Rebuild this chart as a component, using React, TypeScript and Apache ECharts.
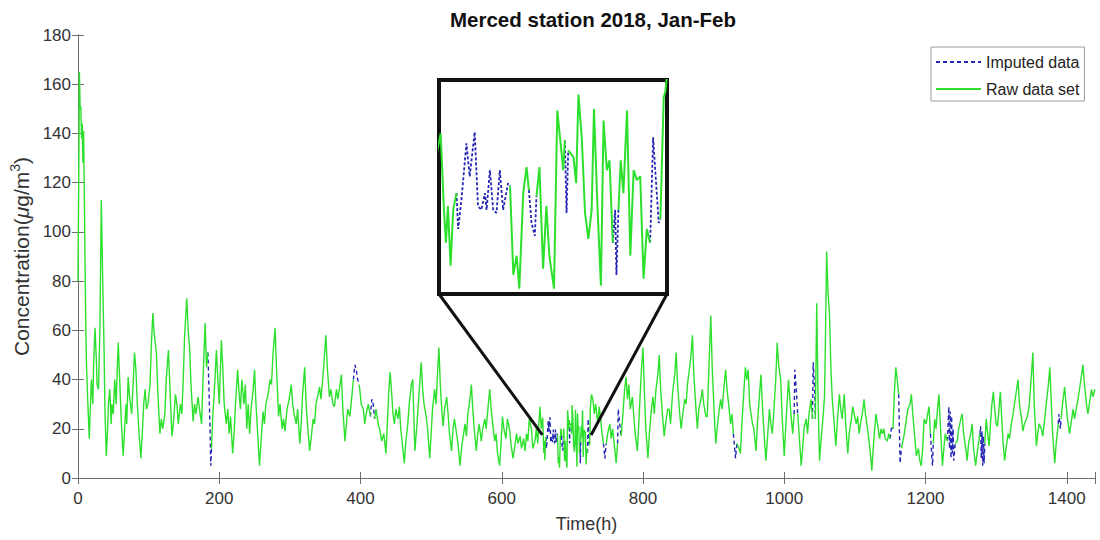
import React, { useEffect, useRef } from 'react';
import * as echarts from 'echarts';

type Pt = [number, number];

const FONT = '"Liberation Sans", Arial, Helvetica, sans-serif';

const TITLE = 'Merced station 2018, Jan-Feb';
const X_NAME = 'Time(h)';
const SERIES_IMPUTED = 'Imputed data';
const SERIES_RAW = 'Raw data set';

const X_RANGE: [number, number] = [0, 1440];
const X_STEP = 200;
const Y_RANGE: [number, number] = [0, 180];
const Y_STEP = 20;

// Window shown magnified in the inset (hours) and its concentration span
const ZOOM_HOURS: [number, number] = [657.5, 726.5];
const ZOOM_CONC: [number, number] = [3.5, 31.5];
// Concentration level where the inset's guide lines meet the main trace
const ZOOM_ANCHOR_LEVEL = 17.5;

// Hourly PM2.5 concentration (µg/m³), [hour, value]
const hours0to230: Pt[] = [
  [0, 80], [1, 120], [2, 165], [3, 150], [4, 151], [5, 138], [6, 144], [7, 128], [8, 141], [9, 114],
  [10, 87], [11, 62], [12, 46], [14, 30], [16, 16], [17, 25], [19, 40], [21, 30], [22, 45], [24, 61],
  [26, 48], [27, 38], [29, 36], [31, 60], [33, 113], [35, 80], [37, 51], [38, 30], [40, 9], [42, 20],
  [43, 30], [45, 36], [47, 22], [48, 30], [50, 26], [52, 40], [54, 30], [56, 48], [57, 55], [59, 40],
  [61, 25], [64, 9], [66, 20], [68, 30], [69, 22], [71, 41], [73, 33], [76, 26], [78, 38], [80, 51],
  [82, 44], [84, 30], [86, 20], [89, 8], [91, 18], [93, 30], [95, 36], [97, 28], [99, 30], [102, 38],
  [104, 55], [106, 67], [108, 58], [111, 51], [113, 35], [116, 18], [118, 24], [120, 20], [123, 26], [125, 40],
  [128, 52], [130, 38], [133, 17], [135, 22], [138, 34], [140, 30], [142, 22], [145, 30], [147, 26], [149, 40],
  [151, 58], [154, 73], [156, 60], [158, 53], [160, 38], [163, 23], [165, 30], [167, 26], [170, 33], [172, 28],
  [175, 22], [177, 40], [180, 63], [182, 45], [184, 51], [185, 40], [186, 30], [187, 20], [188, 5], [189, 12],
  [191, 26], [193, 35], [196, 52], [198, 40], [200, 30], [203, 56], [205, 45], [207, 30], [210, 22], [212, 28],
  [214, 18], [216, 25], [219, 10], [221, 18], [223, 30], [226, 44], [228, 35], [230, 28],
];

const hours232to480: Pt[] = [
  [232, 40], [235, 30], [237, 38], [239, 20], [241, 30], [243, 18], [245, 28], [248, 36], [250, 44], [252, 30],
  [254, 20], [257, 5], [259, 14], [262, 27], [264, 22], [266, 30], [269, 34], [272, 40], [274, 38], [276, 50],
  [279, 61], [281, 45], [284, 25], [286, 30], [289, 20], [291, 24], [293, 19], [296, 28], [299, 32], [302, 38],
  [304, 30], [306, 26], [309, 22], [311, 28], [314, 14], [316, 22], [318, 34], [321, 45], [323, 30], [326, 18],
  [328, 11], [330, 16], [333, 24], [335, 22], [337, 30], [340, 34], [342, 37], [344, 32], [347, 42], [349, 50],
  [351, 58], [353, 45], [356, 33], [358, 36], [361, 30], [363, 29], [366, 36], [368, 32], [371, 38], [373, 42],
  [375, 28], [378, 15], [380, 22], [382, 28], [385, 25], [388, 34], [390, 40], [392, 46], [394, 44], [396, 40],
  [398, 38], [399, 36], [401, 30], [404, 28], [406, 22], [408, 26], [411, 30], [414, 25], [416, 32], [418, 30],
  [420, 24], [422, 28], [425, 22], [427, 20], [430, 15], [433, 18], [436, 10], [438, 22], [440, 35], [442, 43],
  [444, 35], [446, 26], [448, 22], [450, 28], [453, 24], [455, 29], [457, 20], [460, 12], [462, 6], [464, 14],
  [467, 22], [469, 30], [472, 38], [474, 40], [477, 11], [480, 22],
];

const hours483to656: Pt[] = [
  [483, 35], [486, 47], [488, 36], [490, 30], [493, 25], [495, 20], [498, 8], [500, 18], [502, 28], [505, 36],
  [507, 30], [509, 42], [511, 53], [513, 38], [515, 28], [517, 21], [519, 28], [522, 33], [524, 26], [526, 18],
  [529, 11], [531, 20], [533, 24], [536, 18], [538, 14], [541, 5], [543, 12], [546, 18], [548, 22], [550, 17],
  [552, 26], [555, 32], [557, 38], [559, 28], [561, 20], [564, 11], [566, 18], [568, 22], [571, 15], [573, 20],
  [576, 24], [578, 20], [581, 30], [583, 36], [585, 28], [588, 20], [590, 15], [592, 18], [594, 10], [597, 5],
  [599, 14], [601, 25], [603, 20], [606, 16], [608, 24], [611, 20], [613, 14], [616, 8], [618, 12], [621, 18],
  [623, 14], [626, 17], [628, 12], [631, 16], [633, 11], [635, 18], [637, 15], [639, 24], [642, 20], [644, 12],
  [647, 15], [649, 20], [651, 14], [654, 29], [656, 20],
];

const hours658to726: Pt[] = [
  [658, 24.5], [659, 14.5], [659.6, 10.2], [660.2, 15], [661, 7.2], [661.8, 14.5], [662.8, 16.7], [663.3, 12],
  [664.3, 15.9], [665.8, 23.2], [666.8, 18.9], [668.3, 24.7], [669.3, 15], [670.3, 14.5], [671.4, 16.7],
  [671.9, 14.5], [672.9, 19.7], [673.9, 14.5], [674.9, 14.1], [675.9, 19.7], [676.9, 14.5], [678.4, 18],
  [679, 17.6], [680, 6], [681, 8.5], [681.8, 4.2], [683, 16.7], [684, 20.1], [684.7, 17.1], [685.5, 12.8],
  [686.5, 11.1], [687, 16.3], [687.9, 20.1], [689, 6.8], [690, 15], [690.9, 8.5], [692.3, 4.2], [693.3, 27.5],
  [694.3, 23.2], [695.1, 19.7], [695.6, 23.6], [696.1, 14.1], [696.6, 22.3], [698.2, 21.4], [699, 18],
  [699.7, 29.6], [700.7, 24], [701.7, 14.1], [702.7, 10.7], [703.7, 14.5], [704.4, 27.7], [705.5, 14.5],
  [706.5, 4.6], [707.3, 26.2], [708.3, 19.7], [709.1, 21], [710.1, 10.2], [710.8, 14.5], [711.2, 6],
  [711.8, 14.5], [712.5, 21], [713.3, 16.7], [714.4, 27.5], [715.4, 8.5], [716.4, 19.7], [717.4, 18.4],
  [718.4, 18.9], [719.4, 5.5], [720.4, 12], [721.4, 10.2], [722.3, 24], [723.2, 18], [724, 12.8], [724.5, 13.3],
  [725.5, 29.2], [726, 30],
];

const hours727to960: Pt[] = [
  [727, 34], [729, 32], [731, 26], [733, 30], [736, 22], [738, 29], [740, 24], [742, 18], [744, 14], [746, 8],
  [748, 14], [750, 18], [753, 22], [755, 16], [757, 20], [760, 12], [762, 6], [764, 14], [765, 28], [767, 22],
  [769, 17], [771, 24], [774, 36], [776, 41], [778, 32], [780, 38], [782, 28], [785, 33], [787, 25], [789, 18],
  [792, 11], [794, 22], [796, 34], [798, 45], [800, 53], [802, 35], [804, 20], [807, 8], [809, 18], [812, 28],
  [814, 33], [816, 26], [818, 35], [821, 42], [823, 50], [825, 36], [828, 24], [830, 17], [832, 22], [835, 28],
  [837, 28], [839, 22], [842, 35], [845, 42], [847, 51], [849, 38], [852, 26], [854, 20], [856, 25], [859, 32],
  [861, 30], [863, 38], [866, 45], [868, 50], [870, 58], [872, 42], [875, 28], [877, 20], [879, 28], [882, 32],
  [884, 36], [886, 30], [889, 25], [891, 25], [893, 42], [896, 66], [898, 45], [901, 25], [903, 14], [905, 20],
  [908, 28], [910, 32], [912, 28], [915, 38], [917, 44], [919, 36], [922, 28], [924, 22], [926, 26], [928, 18],
  [931, 8], [933, 14], [936, 12], [938, 10], [940, 22], [943, 36], [945, 45], [947, 40], [949, 44], [951, 30],
  [953, 26], [955, 22], [957, 20], [960, 11],
];

const hours962to1201: Pt[] = [
  [962, 22], [964, 30], [967, 42], [969, 30], [971, 20], [974, 7], [976, 15], [979, 28], [981, 22], [983, 18],
  [985, 26], [988, 40], [990, 55], [992, 46], [995, 40], [997, 25], [1000, 9], [1002, 20], [1004, 30], [1006, 40],
  [1008, 32], [1010, 24], [1012, 18], [1014, 26], [1015, 44], [1017, 36], [1019, 26], [1021, 18], [1024, 5],
  [1026, 12], [1028, 20], [1031, 24], [1033, 18], [1035, 26], [1038, 32], [1040, 24], [1041, 47], [1043, 36],
  [1044, 24], [1046, 71], [1048, 30], [1050, 7], [1052, 15], [1055, 25], [1057, 33], [1058, 50], [1060, 92],
  [1062, 75], [1064, 67], [1066, 45], [1068, 32], [1070, 25], [1073, 13], [1075, 22], [1078, 34], [1080, 28],
  [1082, 24], [1085, 34], [1087, 22], [1090, 10], [1092, 18], [1095, 24], [1097, 29], [1099, 26], [1102, 22],
  [1104, 25], [1106, 18], [1108, 22], [1111, 27], [1113, 32], [1115, 26], [1118, 20], [1120, 15], [1122, 10],
  [1124, 3], [1126, 12], [1128, 20], [1130, 26], [1132, 22], [1135, 16], [1137, 20], [1139, 18], [1141, 20],
  [1143, 16], [1146, 15], [1148, 18], [1150, 16], [1152, 21], [1154, 20], [1156, 35], [1158, 45], [1160, 40],
  [1162, 34], [1163, 20], [1164, 6], [1166, 12], [1168, 15], [1170, 18], [1173, 24], [1175, 28], [1178, 30],
  [1180, 34], [1182, 26], [1185, 16], [1187, 9], [1190, 12], [1192, 7], [1194, 5], [1196, 12], [1198, 24],
  [1201, 22],
];

const hours1203to1440: Pt[] = [
  [1203, 26], [1205, 29], [1207, 18], [1209, 8], [1210, 5], [1211, 14], [1213, 24], [1215, 20], [1217, 28],
  [1219, 34], [1221, 22], [1224, 5], [1226, 12], [1228, 18], [1231, 15], [1233, 29], [1234, 12], [1235, 27],
  [1236, 8], [1237, 25], [1238, 10], [1239, 20], [1240, 7], [1242, 14], [1245, 15], [1247, 20], [1250, 24],
  [1252, 26], [1254, 18], [1257, 12], [1259, 7], [1261, 14], [1264, 18], [1266, 22], [1268, 12], [1271, 5],
  [1273, 10], [1275, 14], [1277, 18], [1278, 21], [1279, 8], [1280, 19], [1281, 5], [1282, 17], [1283, 6],
  [1284, 14], [1286, 24], [1288, 18], [1290, 13], [1292, 22], [1294, 30], [1296, 35], [1298, 28], [1300, 22],
  [1302, 21], [1304, 28], [1306, 35], [1308, 24], [1310, 14], [1312, 7], [1314, 12], [1317, 18], [1319, 16],
  [1321, 21], [1324, 26], [1326, 30], [1329, 36], [1331, 40], [1333, 30], [1336, 24], [1338, 19], [1340, 22],
  [1343, 24], [1345, 26], [1347, 30], [1350, 42], [1352, 51], [1354, 30], [1357, 13], [1359, 18], [1361, 22],
  [1364, 20], [1366, 17], [1368, 22], [1371, 30], [1374, 38], [1376, 45], [1378, 32], [1380, 18], [1383, 6],
  [1385, 14], [1388, 22], [1389, 26], [1391, 20], [1392, 24], [1394, 30], [1397, 37], [1399, 30], [1401, 24],
  [1404, 18], [1406, 22], [1409, 28], [1411, 24], [1414, 29], [1416, 32], [1419, 38], [1421, 42], [1423, 46],
  [1425, 38], [1428, 30], [1430, 26], [1432, 30], [1435, 36], [1437, 33], [1440, 36],
];

// Stretches (hours) where raw readings are missing and filled by imputation
const imputedGaps: [number, number][] = [
  [184, 189], [390, 398], [414, 420],
  [662.8, 679], [684.7, 687], [695.6, 696.6], [710.1, 711.8], [721.4, 724.5],
  [744, 748], [764, 769], [928, 933],
  [1014, 1019], [1040, 1044], [1150, 1154], [1162, 1166],
  [1207, 1211], [1231, 1242], [1277, 1284], [1388, 1392],
];

const allHours: Pt[] = [
  ...hours0to230, ...hours232to480, ...hours483to656, ...hours658to726,
  ...hours727to960, ...hours962to1201, ...hours1203to1440,
];

const insideGap = (h: number) => imputedGaps.some(([s, e]) => h > s && h < e);
const touchesGap = (h: number) => imputedGaps.some(([s, e]) => h >= s && h <= e);

const rawSeries = allHours.map(([h, v]) => [h, insideGap(h) ? '-' : v]);
const imputedSeries = allHours.map(([h, v]) => [h, touchesGap(h) ? v : '-']);
const inZoom = (p: (number | string)[]) =>
  (p[0] as number) >= ZOOM_HOURS[0] - 3 && (p[0] as number) <= ZOOM_HOURS[1] + 3;
const rawZoom = rawSeries.filter(inZoom);
const imputedZoom = imputedSeries.filter(inZoom);

const GREEN = '#2ee02e';
const BLUE = '#2626b4';
const AXIS = '#6e6e6e';
const LABEL = '#333333';

export default function App() {
  const ref = useRef<HTMLDivElement>(null);

  useEffect(() => {
    if (!ref.current) return;
    const chart = echarts.init(ref.current, undefined, { renderer: 'svg' });

    const frameAxis = {
      axisLine: { show: true, lineStyle: { color: AXIS, width: 1 } },
      axisTick: { show: true, inside: true, length: 6, lineStyle: { color: AXIS } },
      splitLine: { show: false },
    };

    chart.setOption({
      animation: false,
      backgroundColor: '#ffffff',
      textStyle: { fontFamily: FONT },
      title: {
        text: TITLE,
        left: 588,
        top: 4,
        textAlign: 'center',
        textStyle: { fontFamily: FONT, fontSize: 20.5, fontWeight: 'bold', color: '#111' },
      },
      legend: {
        data: [SERIES_IMPUTED, SERIES_RAW],
        orient: 'vertical',
        left: 931,
        top: 47,
        backgroundColor: '#ffffff',
        borderColor: '#9a9a9a',
        borderWidth: 1,
        borderRadius: 0,
        padding: [6, 5, 3, 4],
        itemWidth: 45,
        itemHeight: 4,
        itemGap: 9,
        itemStyle: { opacity: 0 },
        textStyle: { fontFamily: FONT, fontSize: 16, color: '#222', lineHeight: 18 },
      },
      grid: [
        { left: 78, top: 35, right: 5, bottom: 62 },
        {
          left: 439, top: 80, width: 228, height: 214,
          show: true, backgroundColor: '#ffffff', borderColor: '#111', borderWidth: 4, z: 5,
        },
      ],
      xAxis: [
        {
          type: 'value', gridIndex: 0, min: X_RANGE[0], max: X_RANGE[1], interval: X_STEP,
          ...frameAxis,
          axisLabel: {
            color: LABEL, fontSize: 17, fontFamily: FONT, margin: 12,
            formatter: (v: number) => (v % X_STEP === 0 ? String(v) : ''),
          },
          name: X_NAME, nameLocation: 'middle', nameGap: 37,
          nameTextStyle: { color: LABEL, fontSize: 18, fontFamily: FONT },
        },
        {
          type: 'value', gridIndex: 0, position: 'top', min: X_RANGE[0], max: X_RANGE[1], interval: X_STEP,
          ...frameAxis, axisLabel: { show: false },
        },
        {
          type: 'value', gridIndex: 1, min: ZOOM_HOURS[0], max: ZOOM_HOURS[1], show: false,
        },
      ],
      yAxis: [
        {
          type: 'value', gridIndex: 0, min: Y_RANGE[0], max: Y_RANGE[1], interval: Y_STEP,
          ...frameAxis,
          axisLabel: { color: LABEL, fontSize: 17, fontFamily: FONT, margin: 7 },
          name: '{t|Concentration(}{mu|μ}{t|g/m}{sup|3}{t|)}',
          nameLocation: 'middle', nameGap: 37,
          nameTextStyle: {
            color: LABEL, fontSize: 21, fontFamily: FONT,
            rich: {
              t: { fontSize: 21, fontFamily: FONT, color: LABEL, lineHeight: 26 },
              mu: { fontSize: 21, fontFamily: FONT, color: LABEL, fontStyle: 'italic', lineHeight: 26 },
              sup: { fontSize: 14, fontFamily: FONT, color: LABEL, lineHeight: 15, verticalAlign: 'top' },
            },
          },
        },
        {
          type: 'value', gridIndex: 0, position: 'right', min: Y_RANGE[0], max: Y_RANGE[1], interval: Y_STEP,
          ...frameAxis, axisLabel: { show: false },
        },
        {
          type: 'value', gridIndex: 1, min: ZOOM_CONC[0], max: ZOOM_CONC[1], show: false,
        },
      ],
      series: [
        {
          name: SERIES_IMPUTED, type: 'line', xAxisIndex: 0, yAxisIndex: 0, data: imputedSeries,
          symbol: 'none', connectNulls: false,
          lineStyle: { color: BLUE, width: 1.4, type: [4, 3] }, itemStyle: { color: BLUE },
        },
        {
          name: SERIES_RAW, type: 'line', xAxisIndex: 0, yAxisIndex: 0, data: rawSeries,
          symbol: 'none', connectNulls: false,
          lineStyle: { color: GREEN, width: 1.4 }, itemStyle: { color: GREEN },
        },
        {
          name: 'Imputed (hours 658-726)', type: 'line', xAxisIndex: 2, yAxisIndex: 2, data: imputedZoom,
          symbol: 'none', connectNulls: false, z: 6,
          lineStyle: { color: BLUE, width: 1.8, type: [3, 2] },
        },
        {
          name: 'Raw (hours 658-726)', type: 'line', xAxisIndex: 2, yAxisIndex: 2, data: rawZoom,
          symbol: 'none', connectNulls: false, z: 6,
          lineStyle: { color: GREEN, width: 2 },
        },
      ],
    });

    // Guide lines from the inset's lower corners down to the magnified window
    const mainL = chart.convertToPixel({ xAxisIndex: 0, yAxisIndex: 0 }, [ZOOM_HOURS[0], ZOOM_ANCHOR_LEVEL]) as number[];
    const mainR = chart.convertToPixel({ xAxisIndex: 0, yAxisIndex: 0 }, [ZOOM_HOURS[1], ZOOM_ANCHOR_LEVEL]) as number[];
    const boxL = chart.convertToPixel({ xAxisIndex: 2, yAxisIndex: 2 }, [ZOOM_HOURS[0], ZOOM_CONC[0]]) as number[];
    const boxR = chart.convertToPixel({ xAxisIndex: 2, yAxisIndex: 2 }, [ZOOM_HOURS[1], ZOOM_CONC[0]]) as number[];

    chart.setOption({
      graphic: [
        {
          type: 'line', z: 100,
          shape: { x1: boxL[0], y1: boxL[1], x2: mainL[0], y2: mainL[1] },
          style: { stroke: '#111', lineWidth: 3 },
        },
        {
          type: 'line', z: 100,
          shape: { x1: boxR[0], y1: boxR[1], x2: mainR[0], y2: mainR[1] },
          style: { stroke: '#111', lineWidth: 3 },
        },
      ],
    });

    return () => chart.dispose();
  }, []);

  return (
    <div
      ref={ref}
      style={{ position: 'absolute', left: 0, top: 0, width: 1100, height: 540, background: '#fff' }}
    />
  );
}
